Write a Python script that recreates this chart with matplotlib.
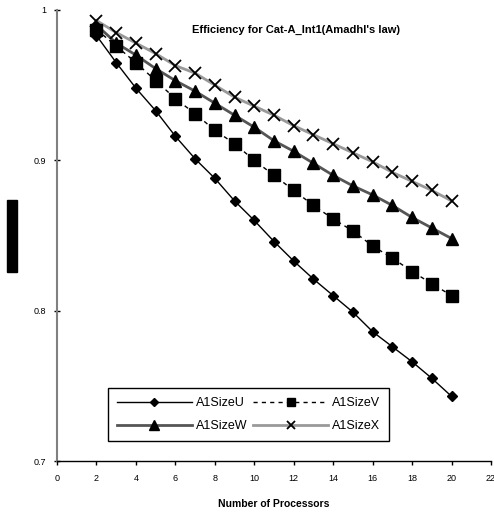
"""Efficiency for Cat-A_Int1 (Amdahl's law), four problem sizes."""

import matplotlib

matplotlib.use("Agg")
import matplotlib.pyplot as plt
from matplotlib.patches import Rectangle

plt.rcParams["font.family"] = ["Liberation Sans", "DejaVu Sans"]

processors = list(range(2, 21))
size_u = [0.983, 0.965, 0.948, 0.933, 0.916, 0.901, 0.888, 0.873, 0.860, 0.846,
          0.833, 0.821, 0.810, 0.799, 0.786, 0.776, 0.766, 0.755, 0.743]
size_v = [0.987, 0.976, 0.965, 0.953, 0.941, 0.931, 0.920, 0.911, 0.900, 0.890,
          0.880, 0.870, 0.861, 0.853, 0.843, 0.835, 0.826, 0.818, 0.810]
size_w = [0.990, 0.978, 0.970, 0.961, 0.953, 0.946, 0.938, 0.930, 0.922, 0.913,
          0.906, 0.898, 0.890, 0.883, 0.877, 0.870, 0.862, 0.855, 0.848]
size_x = [0.993, 0.985, 0.978, 0.971, 0.963, 0.958, 0.950, 0.942, 0.936, 0.930,
          0.923, 0.917, 0.911, 0.905, 0.899, 0.892, 0.886, 0.880, 0.873]

fig = plt.figure(figsize=(4.94, 5.12), dpi=100)
ax = fig.add_axes([0.1154, 0.0996, 0.8786, 0.8809])

line_u, = ax.plot(processors, size_u, color="black", linewidth=1.0, marker="D",
                  markersize=5.5, label="A1SizeU", zorder=4)
line_v, = ax.plot(processors, size_v, color="black", linewidth=1.0,
                  linestyle=(0, (3, 3)), marker="s", markersize=8,
                  label="A1SizeV", zorder=4)
line_w, = ax.plot(processors, size_w, color="#555555", linewidth=2.0, marker="^",
                  markersize=8.5, markerfacecolor="black",
                  markeredgecolor="black", label="A1SizeW", zorder=3)
line_x, = ax.plot(processors, size_x, color="#999999", linewidth=2.0, marker="x",
                  markersize=8, markeredgecolor="black", markeredgewidth=1.3,
                  label="A1SizeX", zorder=3)

ax.set_xlim(0, 22)
ax.set_ylim(0.7, 1.0)
ax.set_xticks(range(0, 23, 2))
ax.set_yticks([0.7, 0.8, 0.9, 1.0])
ax.set_yticklabels(["0.7", "0.8", "0.9", "1"])
ax.tick_params(axis="both", labelsize=6.5, length=3, width=1, pad=6)
ax.tick_params(axis="y", direction="inout", length=4)

for side in ("top", "right"):
    ax.spines[side].set_visible(False)
ax.spines["left"].set_color("#808080")
ax.spines["left"].set_linewidth(1.5)
ax.spines["bottom"].set_linewidth(1.0)

ax.text(0.55, 0.955, "Efficiency for Cat-A_Int1(Amadhl's law)",
        transform=ax.transAxes, ha="center", va="center",
        fontsize=8, fontweight="bold")
ax.set_xlabel("Number of Processors", fontsize=7.5, fontweight="bold",
              labelpad=12)

# row-major order as in the original: U, V on top, W, X below
legend = ax.legend([line_u, line_w, line_v, line_x],
                   ["A1SizeU", "A1SizeW", "A1SizeV", "A1SizeX"],
                   loc="lower left", bbox_to_anchor=(0.1175, 0.044), ncol=2,
                   fontsize=9, frameon=True, fancybox=False, edgecolor="black",
                   handlelength=6.0, columnspacing=0.5, borderpad=0.7,
                   labelspacing=0.9, handletextpad=0.3, framealpha=1,
                   borderaxespad=0, markerscale=0.8)
legend.get_frame().set_linewidth(1.0)

# the unrendered y-axis title shows as a solid black bar
fig.patches.append(Rectangle((7 / 494, 1 - 272 / 512), 10 / 494, 72 / 512,
                             transform=fig.transFigure, color="black"))

fig.savefig("out.png", dpi=100)
